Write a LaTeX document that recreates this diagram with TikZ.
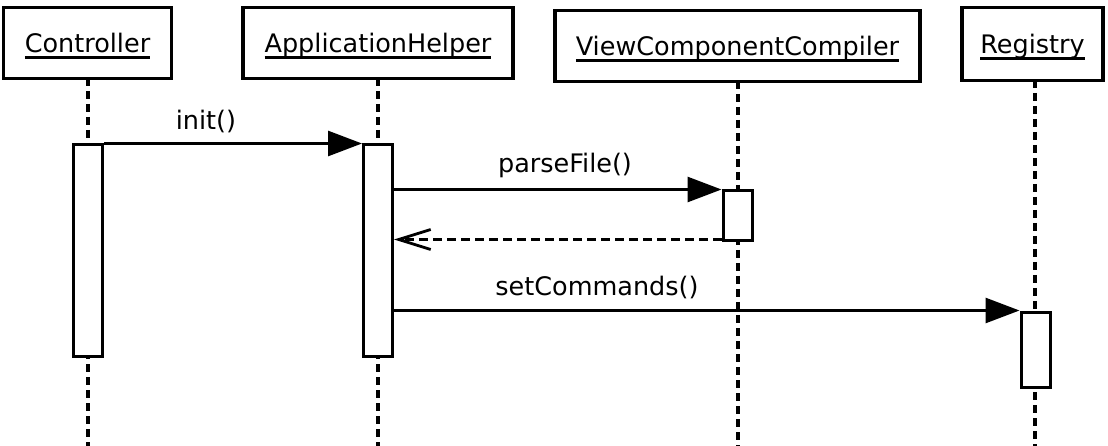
\documentclass[tikz,border=0pt]{standalone}
\usepackage{fontspec}
\setmainfont{DejaVu Sans}
\usetikzlibrary{arrows.meta}
\newcommand\myul[1]{\sbox0{#1}\rlap{\usebox0}\rule[-6.5pt]{\wd0}{2.8pt}}
\tikzset{
  objbox/.style={draw, line width=3.2pt, fill=white, minimum height=71pt, inner sep=0pt, text height=25pt, text depth=6pt, font=\fontsize{25.5}{30}\selectfont},
  lifeline/.style={line width=3.6pt, dash pattern=on 8pt off 5pt},
  actbox/.style={draw, line width=3pt, fill=white, minimum width=29pt, inner sep=0pt},
  callmsg/.style={line width=2.8pt, -{Triangle[length=34pt,width=25pt]}},
  retmsg/.style={line width=2.8pt, dash pattern=on 9pt off 5pt, -{Straight Barb[length=32pt,width=20pt,line width=2.8pt]}},
  msglabel/.style={font=\fontsize{25.5}{30}\selectfont, inner sep=0pt}
}
\begin{document}
\begin{tikzpicture}[x=1pt,y=-1pt]
\useasboundingbox (0,0) rectangle (1108,446);
% lifelines
\coordinate (cend) at (88,446);
\coordinate (aend) at (378,446);
\coordinate (vend) at (738,446);
\coordinate (rend) at (1035,446);
\draw[lifeline] (88,78) -- (cend);
\draw[lifeline] (378,78) -- (aend);
\draw[lifeline] (738,81) -- (vend);
\draw[lifeline] (1035,80) -- (rend);
% object boxes
\node[objbox, minimum width=168pt] (ctrl) at (87.5,43) {\myul{Controller}};
\node[objbox, minimum width=270pt] (app) at (378,43) {\myul{ApplicationHelper}};
\node[objbox, minimum width=365pt] (vcc) at (737.5,46) {\myul{ViewComponentCompiler}};
\node[objbox, minimum width=141pt, minimum height=73pt] (reg) at (1032.5,44) {\myul{Registry}};
% activation boxes
\node[actbox, minimum height=211pt] (cact) at (88,250.5) {};
\node[actbox, minimum height=211pt] (aact) at (378,250.5) {};
\node[actbox, minimum height=50pt] (vact) at (737.5,216) {};
\node[actbox, minimum height=75pt] (ract) at (1035.5,349.5) {};
% messages
\draw[callmsg] (cact.north east) -- (aact.north west);
\node[msglabel] (l1) at (206,121) {init()};
\draw[callmsg] (aact.east |- vact.north) -- (vact.north west);
\node[msglabel] (l2) at (565,165) {parseFile()};
\coordinate (rs) at ([yshift=3pt]vact.south west);
\draw[retmsg] (rs) -- (aact.east |- rs);
\draw[callmsg] (aact.east |- ract.north) -- (ract.north west);
\node[msglabel] (l3) at (597,287) {setCommands()};
\end{tikzpicture}
\end{document}
